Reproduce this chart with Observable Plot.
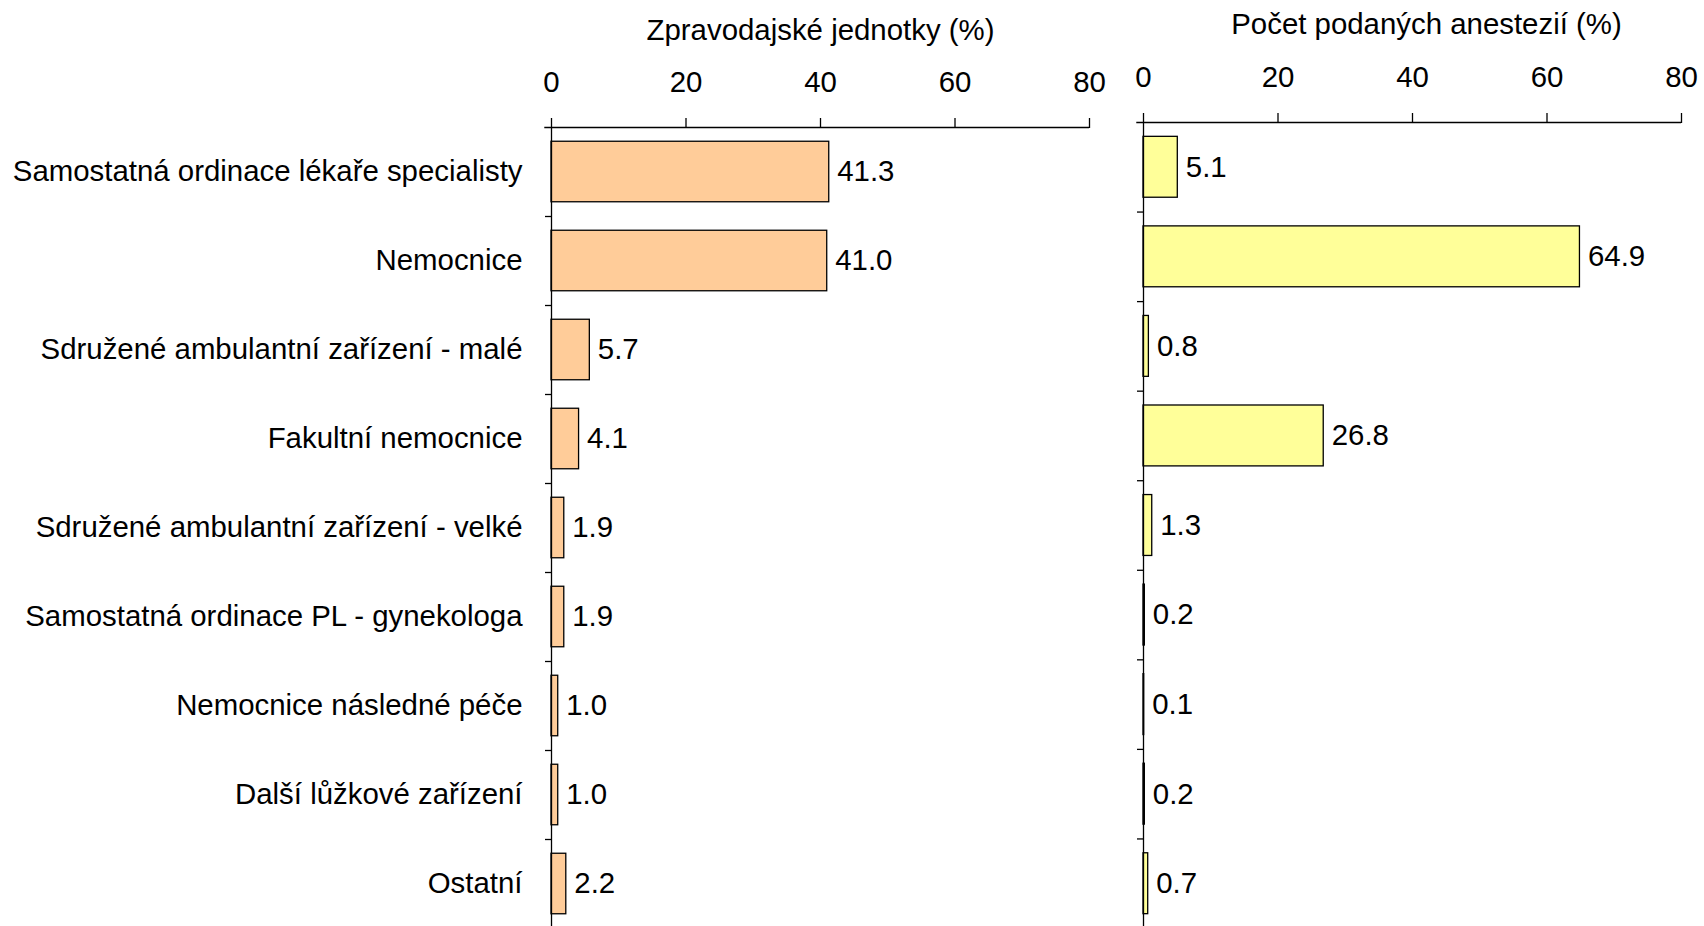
<!DOCTYPE html>
<html><head><meta charset="utf-8">
<script src="https://cdn.jsdelivr.net/npm/d3@7"></script>
<script src="https://cdn.jsdelivr.net/npm/@observablehq/plot@0.6"></script>
<style>
html,body{margin:0;padding:0;background:#fff;overflow:hidden;width:1704px;height:926px;}
#left{position:absolute;left:0;top:0}
#right{position:absolute;left:1110px;top:0}
</style></head><body>
<div id="left"></div><div id="right"></div>
<script>
const categories = [
  "Samostatná ordinace lékaře specialisty",
  "Nemocnice",
  "Sdružené ambulantní zařízení - malé",
  "Fakultní nemocnice",
  "Sdružené ambulantní zařízení - velké",
  "Samostatná ordinace PL - gynekologa",
  "Nemocnice následné péče",
  "Další lůžkové zařízení",
  "Ostatní"
];
const unitsPct = [41.3, 41.0, 5.7, 4.1, 1.9, 1.9, 1.0, 1.0, 2.2];
const anesthesiaPct = [5.1, 64.9, 0.8, 26.8, 1.3, 0.2, 0.1, 0.2, 0.7];
const xTicks = [0, 20, 40, 60, 80];
const leftTitle = "Zpravodajské jednotky (%)";
const rightTitle = "Počet podaných anestezií (%)";

const font = "'Liberation Sans', Arial, sans-serif";
const fs = 29.4;
const half = 0.34;

function panel({values, fill, title, width, marginLeft, marginRight, marginTop, titleDy, titleDx, showLabels}) {
  const rows = categories.map((c, i) => ({i, c, v: values[i]}));
  const idx = d3.range(categories.length);
  const bounds = d3.range(categories.length - 1).map(i => i + 0.5);
  return Plot.plot({
    width, height: 930, marginLeft, marginRight, marginTop, marginBottom: 2,
    style: {fontFamily: font, fontSize: fs + "px", color: "#000", background: "#fff"},
    x: {domain: [0, 80]},
    y: {domain: [categories.length - 0.5, -0.5]},
    marks: [
      Plot.rectX(rows, {x1: 0, x2: "v", y1: d => d.i - half, y2: d => d.i + half, fill, stroke: "#000", strokeWidth: 1.3}),
      Plot.ruleX([0], {stroke: "#000", strokeWidth: 1.3}),
      Plot.ruleY([-0.5], {x1: -1, x2: 80, stroke: "#000", strokeWidth: 1.3}),
      Plot.axisX({anchor: "top", ticks: xTicks, tickSize: 10, tickPadding: 26, fontSize: fs, label: null, tickFormat: d => d, strokeWidth: 1.3}),
      Plot.axisY({ticks: bounds, tickSize: 6, tickFormat: () => "", label: null, strokeWidth: 1.3}),
      showLabels ? Plot.axisY({ticks: idx, tickSize: 0, tickPadding: 29, tickFormat: i => categories[i], fontSize: fs, label: null}) : null,
      Plot.text(rows, {x: "v", y: "i", text: d => d.v.toFixed(1), textAnchor: "start", dx: 8, fontSize: fs}),
      Plot.text([title], {frameAnchor: "top", lineAnchor: "middle", dy: titleDy, dx: titleDx, fontSize: fs})
    ]
  });
}

document.getElementById("left").append(panel({
  values: unitsPct, fill: "#FFCC99", title: leftTitle,
  width: 1110, marginLeft: 551, marginRight: 21, marginTop: 127,
  titleDy: -97, titleDx: 0, showLabels: true
}));
document.getElementById("right").append(panel({
  values: anesthesiaPct, fill: "#FFFF99", title: rightTitle,
  width: 594, marginLeft: 33, marginRight: 23, marginTop: 122,
  titleDy: -98, titleDx: 14, showLabels: false
}));
</script>
</body></html>
